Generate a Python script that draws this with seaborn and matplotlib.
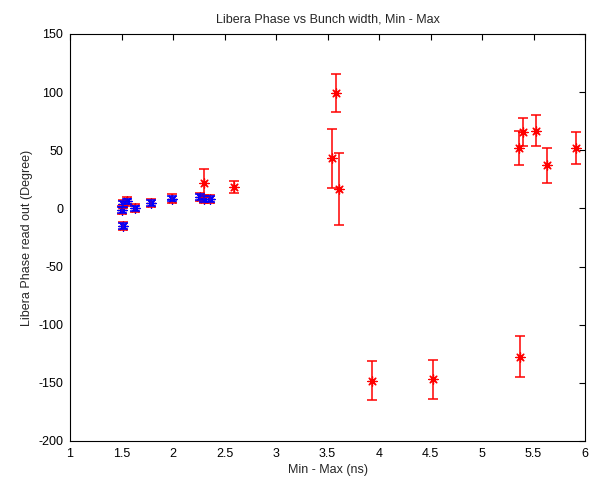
import matplotlib
matplotlib.use('Agg')
import matplotlib.pyplot as plt
import numpy as np
import pandas as pd
import seaborn as sns

# red series: min-max bunch width (ns), phase (deg), half error (deg)
red_x = [1.51, 1.50, 1.51, 1.55, 1.63, 1.79, 1.99, 2.26, 2.30, 2.36,
         2.30, 2.59, 3.54, 3.58, 3.61, 3.93, 4.52, 5.37, 5.36, 5.40,
         5.52, 5.63, 5.91]
red_y = [-15.3, -1.7, 4.0, 6.0, 0.0, 5.0, 8.5, 9.5, 8.0, 8.0,
         21.8, 18.5, 43.0, 99.0, 17.0, -148.0, -147.0, -127.5, 52.0, 66.0,
         67.0, 37.0, 52.0]
red_err = [3.5, 3.5, 3.5, 3.5, 3.5, 3.5, 3.5, 3.5, 3.5, 3.5,
           12.0, 5.0, 25.5, 16.5, 31.0, 16.5, 17.0, 17.5, 14.5, 12.0,
           13.5, 15.0, 14.0]

# blue series
blue_x = [1.51, 1.50, 1.51, 1.55, 1.63, 1.79, 1.99, 2.26, 2.30, 2.36]
blue_y = [-15.3, -1.7, 4.0, 6.0, 0.0, 5.0, 8.5, 9.5, 8.0, 8.0]
blue_err = [2.5, 2.5, 2.5, 2.5, 2.5, 2.5, 2.5, 2.5, 2.5, 2.5]

red_df = pd.DataFrame({'x': red_x, 'y': red_y, 'err': red_err})
blue_df = pd.DataFrame({'x': blue_x, 'y': blue_y, 'err': blue_err})

sns.set_style('white')
plt.rcParams['font.family'] = ['Liberation Sans', 'DejaVu Sans']
plt.rcParams['axes.unicode_minus'] = False

fig = plt.figure(figsize=(5.97, 4.87), dpi=100)
ax = fig.add_axes([0.1173, 0.0945, 0.8626, 0.8357])

for df, col in [(red_df, '#ff0000'), (blue_df, '#0000ff')]:
    ax.errorbar(df['x'], df['y'], yerr=df['err'], fmt='none', ecolor=col,
                elinewidth=1.1, capsize=3.8, capthick=1.1)
    sns.scatterplot(data=df, x='x', y='y', marker=(8, 2, 0), color=col, s=45,
                    linewidth=0.9, edgecolor=col, ax=ax)

ax.set_xlim(1, 6)
ax.set_ylim(-200, 150)
ax.set_xticks(np.arange(1, 6.01, 0.5))
ax.set_xticklabels(['1', '1.5', '2', '2.5', '3', '3.5', '4', '4.5', '5', '5.5', '6'])
ax.set_yticks(np.arange(-200, 151, 50))
ax.tick_params(direction='in', length=4, width=0.8, top=True, right=True,
               labelsize=9, colors='black', pad=5)
for s in ax.spines.values():
    s.set_color('black')
    s.set_linewidth(0.8)

ax.set_title('Libera Phase vs Bunch width, Min - Max', fontsize=9, pad=8)
ax.set_xlabel('Min - Max (ns)', fontsize=9, labelpad=3)
ax.set_ylabel('Libera Phase read out (Degree)', fontsize=9, labelpad=4)

fig.savefig('out.png', dpi=100)
